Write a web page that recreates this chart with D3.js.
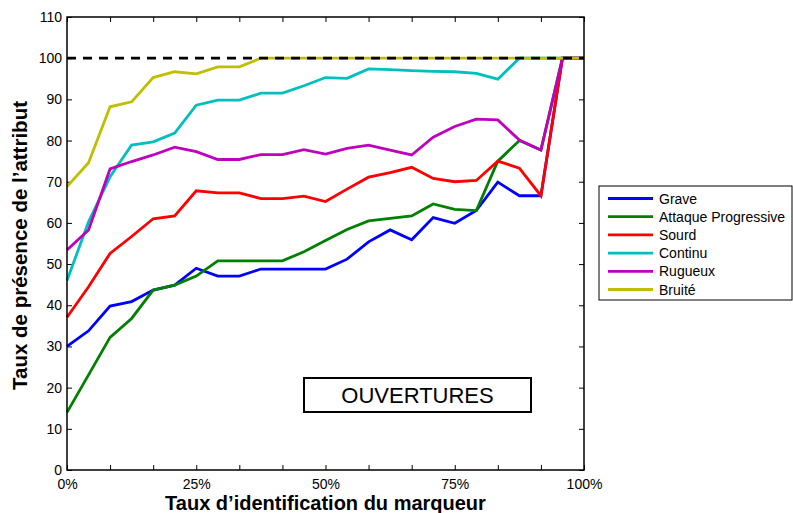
<!DOCTYPE html>
<html>
<head>
<meta charset="utf-8">
<script src="https://cdn.jsdelivr.net/npm/d3@7"></script>
<style>
  html, body { margin: 0; padding: 0; background: #fff; }
  svg { display: block; font-family: "Liberation Sans", Arial, Helvetica, sans-serif; }
</style>
</head>
<body>
<svg id="chart" width="793" height="513"></svg>
<script>
// ---- data ----
const xValues = [0, 4.17, 8.33, 12.5, 16.67, 20.83, 25, 29.17, 33.33, 37.5, 41.67, 45.83, 50,
                 54.17, 58.33, 62.5, 66.67, 70.83, 75, 79.17, 83.33, 87.5, 91.67, 95.83, 100];
const seriesNames = ["Grave", "Attaque Progressive", "Sourd", "Continu", "Rugueux", "Bruité"];
const grave   = [30, 33.8, 39.8, 40.9, 43.7, 44.9, 49.0, 47.1, 47.1, 48.8, 48.8, 48.8, 48.8, 51.2, 55.4, 58.3, 55.9, 61.3, 59.9, 63.0, 69.9, 66.6, 66.6, 100, 100];
const attaque = [14.0, 23.1, 32.2, 36.8, 43.7, 44.9, 47.1, 50.8, 50.8, 50.8, 50.8, 53.0, 55.7, 58.4, 60.5, 61.1, 61.7, 64.6, 63.3, 63.0, 75.0, 80.0, 77.7, 100, 100];
const sourd   = [37.1, 44.5, 52.6, 56.7, 61.0, 61.7, 67.8, 67.3, 67.3, 65.9, 65.9, 66.5, 65.2, 68.2, 71.1, 72.2, 73.5, 70.8, 70.0, 70.3, 75.0, 73.3, 66.6, 100, 100];
const continu = [46.0, 60.3, 71.2, 78.9, 79.7, 81.8, 88.6, 89.8, 89.8, 91.5, 91.5, 93.3, 95.3, 95.1, 97.4, 97.2, 97.0, 96.8, 96.7, 96.3, 94.9, 100, 100, 100, 100];
const rugueux = [53.4, 58.3, 73.1, 74.9, 76.5, 78.4, 77.3, 75.4, 75.4, 76.6, 76.6, 77.8, 76.7, 78.1, 78.9, 77.7, 76.5, 80.8, 83.4, 85.2, 85.0, 80.1, 77.7, 100, 100];
const bruite  = [68.8, 74.6, 88.2, 89.4, 95.3, 96.7, 96.2, 97.9, 97.9, 100, 100, 100, 100, 100, 100, 100, 100, 100, 100, 100, 100, 100, 100, 100, 100];
const seriesColors = ["#0000ff", "#008000", "#ff0000", "#00bfbf", "#bf00bf", "#bfbf00"];
const xTicks = [0, 8.33, 16.67, 25, 33.33, 41.67, 50, 58.33, 66.67, 75, 83.33, 91.67, 100];
const xTickLabels = {0: "0%", 25: "25%", 50: "50%", 75: "75%", 100: "100%"};
const yTicks = [0, 10, 20, 30, 40, 50, 60, 70, 80, 90, 100, 110];
const referenceLevel = 100;
const xTitle = "Taux d’identification du marqueur";
const yTitle = "Taux de présence de l’attribut";
const annotation = "OUVERTURES";

// ---- layout ----
const svg = d3.select("#chart");
const L = 67, R = 584, T = 17, B = 470;
const x = d3.scaleLinear().domain([0, 100]).range([L, R]);
const y = d3.scaleLinear().domain([0, 110]).range([B, T]);
const seriesData = [grave, attaque, sourd, continu, rugueux, bruite];

// axes (ticks inward, mirrored)
const tickLen = 5;
const bottomAxis = d3.axisBottom(x).tickValues(xTicks).tickSize(-tickLen).tickPadding(9)
  .tickFormat(d => xTickLabels[d] || "");
const topAxis = d3.axisTop(x).tickValues(xTicks).tickSize(-tickLen).tickFormat("");
const leftAxis = d3.axisLeft(y).tickValues(yTicks).tickSize(-tickLen).tickPadding(5);
const rightAxis = d3.axisRight(y).tickValues(yTicks).tickSize(-tickLen).tickFormat("");

function styleAxis(g) {
  g.select(".domain").remove();
  g.selectAll(".tick line").attr("stroke", "#000").attr("stroke-width", 1);
  g.selectAll(".tick text").filter(function () { return this.textContent === ""; }).remove();
  g.selectAll(".tick text").attr("fill", "#000").style("font-size", "14px")
    .style("font-family", "'Liberation Sans', Arial, sans-serif");
}
svg.append("g").attr("transform", `translate(0,${B})`).call(bottomAxis).call(styleAxis);
svg.append("g").attr("transform", `translate(0,${T})`).call(topAxis).call(styleAxis);
svg.append("g").attr("transform", `translate(${L},0)`).call(leftAxis).call(styleAxis);
svg.append("g").attr("transform", `translate(${R},0)`).call(rightAxis).call(styleAxis);

// lines
const line = d3.line().x((d, i) => x(xValues[i])).y(d => y(d));
seriesData.forEach((vals, k) => {
  svg.append("path").datum(vals)
    .attr("d", line)
    .attr("fill", "none")
    .attr("stroke", seriesColors[k])
    .attr("stroke-width", 2.8)
    .attr("stroke-linejoin", "miter");
});

// reference dashed line
svg.append("line")
  .attr("x1", x(0)).attr("x2", x(100))
  .attr("y1", y(referenceLevel)).attr("y2", y(referenceLevel))
  .attr("stroke", "#000").attr("stroke-width", 2.8)
  .attr("stroke-dasharray", "9,7");

// frame
svg.append("rect").attr("x", L).attr("y", T).attr("width", R - L).attr("height", B - T)
  .attr("fill", "none").attr("stroke", "#000").attr("stroke-width", 1.5);

// axis titles
svg.append("text").attr("x", (L + R) / 2).attr("y", 510).attr("text-anchor", "middle")
  .style("font-size", "20px").style("font-weight", "bold").text(xTitle);
svg.append("text").attr("transform", `translate(27,${(T + B) / 2 + 2}) rotate(-90)`)
  .attr("text-anchor", "middle")
  .style("font-size", "20.5px").style("font-weight", "bold").text(yTitle);

// annotation box
svg.append("rect").attr("x", 304).attr("y", 378).attr("width", 227).attr("height", 34)
  .attr("fill", "#fff").attr("stroke", "#000").attr("stroke-width", 2);
svg.append("text").attr("x", 417.5).attr("y", 403).attr("text-anchor", "middle")
  .style("font-size", "22px").text(annotation);

// legend
const lg = svg.append("g");
lg.append("rect").attr("x", 599).attr("y", 186).attr("width", 193).attr("height", 114)
  .attr("fill", "#fff").attr("stroke", "#000").attr("stroke-width", 1);
seriesNames.forEach((name, k) => {
  const yy = 198.5 + k * 18.2;
  lg.append("line").attr("x1", 608).attr("x2", 653).attr("y1", yy).attr("y2", yy)
    .attr("stroke", seriesColors[k]).attr("stroke-width", 2.8);
  lg.append("text").attr("x", 659).attr("y", yy + 5).style("font-size", "14px").text(name);
});
</script>
</body>
</html>
